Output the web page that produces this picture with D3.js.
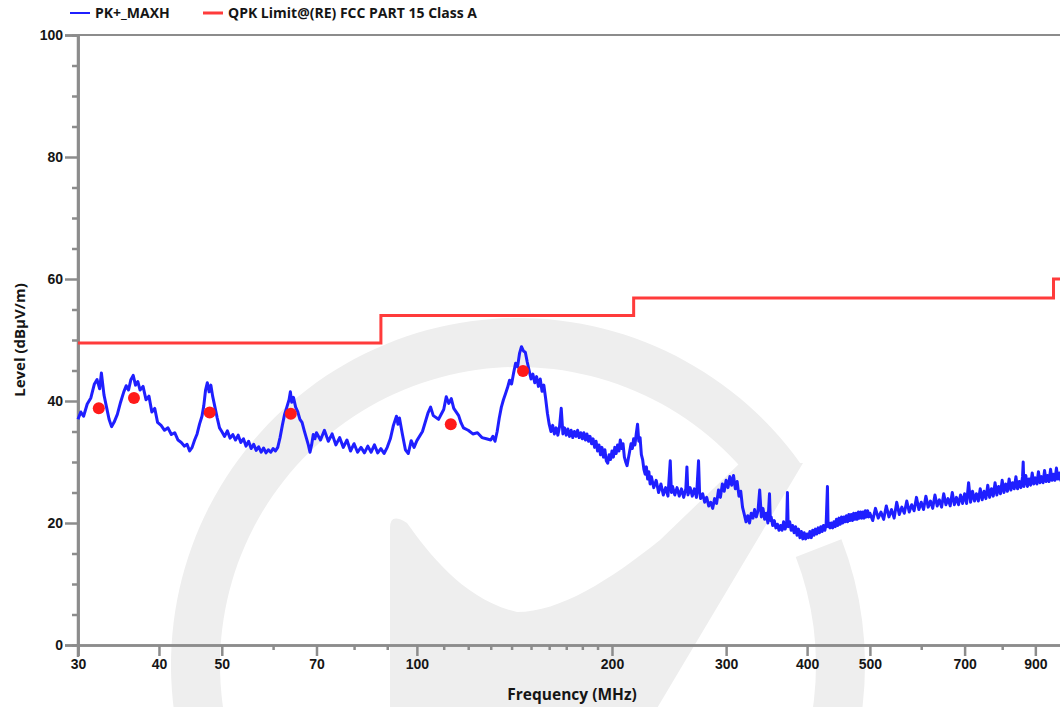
<!DOCTYPE html>
<html><head><meta charset="utf-8">
<script src="https://cdn.jsdelivr.net/npm/d3@7"></script>
<style>
html,body{margin:0;padding:0;background:#fff;}
svg{display:block;font-family:"Open Sans","DejaVu Sans",sans-serif;}
</style></head>
<body>
<svg id="chart" width="1060" height="707"></svg>
<script>
// ---- data ----
const seriesNames = ["PK+_MAXH", "QPK Limit@(RE) FCC PART 15 Class A"];
const xMajorTicks = [30, 40, 50, 70, 100, 200, 300, 400, 500, 700, 900];
const xMinorTicks = [60, 80, 90, 110, 120, 130, 140, 150, 160, 170, 180, 190, 600, 800, 1000];
const yMajorTicks = [0, 20, 40, 60, 80, 100];
const yMinorTicks = [5, 10, 15, 25, 30, 35, 45, 50, 55, 65, 70, 75, 85, 90, 95];
// limit (MHz, level)
const limitFreq = [30, 88, 88, 216, 216, 960, 960, 1000];
const limitLevel = [49.5, 49.5, 54, 54, 56.9, 56.9, 60, 60];
// final QP marker points
const markerFreq = [32.3, 36.6, 47.9, 63.9, 112.8, 145.8];
const markerLevel = [38.8, 40.5, 38.1, 37.9, 36.2, 44.9];
// peak max-hold trace [MHz, dBuV/m]
const peakTrace = [
[30.0,37.0],[30.3,38.2],[30.6,37.5],[31.0,39.5],[31.4,40.5],[31.8,42.8],[32.1,43.5],[32.4,42.0],[32.6,44.6],[32.9,41.0],
[33.2,39.0],[33.5,37.0],[33.8,35.8],[34.1,36.5],[34.5,37.8],[34.9,39.8],[35.3,41.5],[35.6,42.5],[35.9,41.8],[36.2,43.5],
[36.5,44.2],[36.8,42.6],[37.1,43.2],[37.4,41.8],[37.8,42.4],[38.2,40.2],[38.6,40.8],[39.0,38.2],[39.4,38.8],[39.8,36.5],
[40.3,36.0],[40.8,35.2],[41.3,35.6],[41.8,34.5],[42.3,34.8],[42.8,33.6],[43.3,33.2],[43.8,32.6],[44.2,32.9],[44.6,31.8],
[45.0,32.4],[45.4,33.6],[45.8,34.6],[46.2,36.2],[46.6,37.5],[46.9,39.2],[47.2,41.8],[47.5,43.0],[47.8,41.5],[48.1,42.6],
[48.4,40.8],[48.8,39.0],[49.2,37.2],[49.6,35.6],[50.0,35.0],[50.5,34.2],[51.0,35.1],[51.5,33.9],[52.0,34.5],[52.5,33.6],
[53.0,34.4],[53.5,33.2],[54.0,33.8],[54.5,32.6],[55.0,33.4],[55.5,32.2],[56.0,32.9],[56.5,31.9],[57.0,32.5],[57.5,31.6],
[58.0,32.3],[58.5,31.5],[59.0,32.0],[59.5,31.6],[60.0,32.2],[60.5,31.8],[61.0,32.4],[61.5,34.0],[62.0,36.0],[62.5,37.8],
[63.0,39.0],[63.5,40.2],[63.8,41.5],[64.1,39.8],[64.5,40.6],[65.0,39.0],[65.5,38.2],[66.0,37.0],[66.5,36.5],[67.0,35.2],
[67.5,34.0],[68.0,32.8],[68.4,31.6],[68.8,32.8],[69.2,34.5],[69.6,33.8],[70.0,34.8],[71,33.6],[72,35.2],[73,33.4],
[74,34.6],[75,32.8],[76,34.0],[77,32.4],[78,33.6],[79,31.8],[80,33.0],[81,31.6],[82,32.4],[83,31.5],
[84,32.6],[85,31.6],[86,32.8],[87,31.5],[88,32.2],[89,31.4],[90,32.4],[91,33.8],[92,36.0],[93,37.5],
[93.5,36.2],[94,37.2],[95,34.5],[96,32.0],[97,31.4],[98,33.5],[99,32.4],[100,33.5],[102,35.0],[104,38.0],
[105,39.0],[106,37.6],[108,37.0],[110,38.6],[111,40.7],[112,39.6],[113,40.4],[114,38.8],[116,37.6],[117,36.4],
[118,35.6],[120,35.2],[122,34.6],[124,34.8],[126,34.0],[128,33.8],[130,33.6],[131,34.2],[132,33.4],[133,35.0],
[134,37.2],[135,39.0],[136,40.2],[137,41.2],[138,42.2],[139,43.4],[140,42.8],[141,44.6],[142,46.2],[143,45.6],
[144,47.8],[145,48.9],[146,48.2],[147,48.0],[148,46.4],[149,45.0],
[150,43.6],[151,44.4],[152,43.0],[153,44.0],[154,42.4],[155,43.6],[156,41.6],[157,42.6],[158,40.4],[159,38.0],
[160,36.2],[161,35.0],[162,36.0],[163,34.6],[164,35.6],[165,34.4],[166,35.8],[167,38.8],[168,34.6],[169,35.6],
[170,34.4],[171,35.4],[172,34.2],[173,35.2],[174,34.0],[175,35.0],[176,34.2],[177,35.2],[178,34.0],[179,34.8],
[180,33.8],[181,34.8],[182,33.6],[183,34.6],[184,33.4],[185,34.2],[186,33.0],[187,33.8],[188,32.4],[189,33.4],
[190,31.8],[191,32.8],[192,31.2],[193,32.4],[194,30.8],[195,32.0],[196,30.2],[197,29.8],[198,31.2],[199,30.4],
[200,31.8],[201,30.8],[202,32.4],[203,31.4],[204,32.8],[205,31.8],[206,33.6],[207,32.2],[208,33.0],[209,30.8],
[210,30.0],[211,29.4],[212,30.6],[213,31.8],[214,33.0],[215,32.2],[216,33.8],[217,32.8],[218,34.6],[219,36.2],
[220,33.4],[221,34.0],[222,31.2],[223,30.4],[224,28.8],[225,28.0],[226,29.2],[227,27.2],[228,28.4],[229,26.4],
[230,27.6],[232,25.8],[234,27.0],[236,25.0],[238,26.4],[240,24.6],[242,25.8],[244,24.4],[246,30.2],[247,25.0],
[248,26.0],[250,24.6],[252,25.8],[254,24.4],[256,25.6],[258,24.2],[260,25.6],[261,29.2],[262,24.6],[264,25.8],
[266,24.4],[268,25.6],[270,24.2],[272,30.2],[273,25.0],[274,24.0],[276,24.8],[278,23.4],[280,24.2],[282,22.8],
[284,23.4],[286,22.4],[288,24.0],[290,23.2],[292,25.4],[294,24.2],[296,26.4],[298,25.2],[300,27.0],[302,25.8],
[304,27.6],[306,26.2],[308,27.8],[310,25.6],[312,26.8],[314,24.4],[316,25.2],[318,22.6],[320,21.4],[322,20.2],
[324,21.2],[326,20.0],[328,21.6],[330,20.8],[332,22.2],[334,21.0],[336,22.0],[338,25.4],[340,21.0],[342,22.4],
[344,20.6],[346,21.6],[348,20.0],[350,24.8],[351,20.4],[352,21.0],[354,19.6],[356,20.4],[358,19.2],[360,19.8],
[362,18.8],[364,19.6],[366,18.8],[368,20.2],[370,19.0],[372,20.0],[373,25.0],[374,19.4],[376,20.2],[378,18.8],
[380,19.6],[382,18.4],[384,19.4],[386,18.0],[388,19.0],[390,17.6],[392,18.6],[394,17.4],[396,18.4],[398,17.4],
[400,18.2],[402,17.6],[404,18.6],[406,17.6],[408,18.8],[410,18.0],[412,19.0],[414,18.2],[416,19.2],[418,18.4],
[420,19.4],[422,18.6],[424,19.6],[426,18.8],[428,19.8],[430,26.0],[431,19.4],[432,20.0],[434,19.2],[436,20.0],
[438,19.2],[440,20.2],[442,19.4],[444,20.6],[446,19.6],[448,20.8],[450,19.8],[452,21.0],[454,20.0],[456,21.0],
[458,20.2],[460,21.2],[462,20.2],[464,21.4],[466,20.4],[468,21.4],[470,20.4],[472,21.6],[474,20.6],[476,21.6],
[478,20.6],[480,21.8],[482,20.8],[484,21.8],[486,20.8],[488,21.8],[490,20.8],[492,22.0],[494,21.0],[496,22.0],
[498,21.0],[500,21.6],[505,20.4],[510,22.4],[515,20.8],[520,21.8],[525,20.6],[530,22.8],[535,21.0],[540,22.2],
[545,20.8],[550,23.4],[555,21.4],[560,22.6],[565,21.6],[570,23.6],[575,21.8],[580,23.0],[585,22.0],[590,24.2],
[595,22.2],[600,23.4],[605,22.2],[610,24.4],[615,22.6],[620,23.6],[625,22.4],[630,24.6],[635,22.8],[640,23.8],
[645,22.6],[650,24.8],[655,23.0],[660,24.0],[665,22.8],[670,25.0],[675,23.0],[680,24.2],[685,23.0],[690,24.6],
[695,23.2],[700,24.8],[705,23.2],[710,26.6],[715,23.4],[720,25.2],[725,23.6],[730,24.8],[735,23.6],[740,25.6],
[745,23.8],[750,25.2],[755,24.0],[760,26.2],[765,24.2],[770,25.6],[775,24.4],[780,26.6],[785,24.6],[790,26.0],
[795,24.8],[800,27.0],[805,25.0],[810,26.4],[815,25.2],[820,27.2],[825,25.4],[830,26.6],[835,25.6],[840,27.6],
[845,25.6],[850,26.8],[855,25.8],[860,27.6],[862,30.0],[864,26.0],[870,27.8],[875,26.0],[880,27.2],[885,26.2],
[890,28.2],[895,26.4],[900,27.4],[905,26.4],[910,28.4],[915,26.6],[920,27.6],[925,26.6],[930,28.6],[935,26.8],
[940,27.8],[945,26.8],[950,28.8],[955,27.0],[960,28.0],[965,27.0],[970,29.0],[975,27.2],[980,28.2],[985,27.0],
[990,29.0],[995,27.4],[1000,28.4]
];

// ---- drawing ----
const svg = d3.select("#chart");
const x = d3.scaleLog().domain([30, 1000]).range([78, 1065]);
const y = d3.scaleLinear().domain([0, 100]).range([645, 35]);
const axisColor = "#8c8c8c";
const textColor = "#151515";

// watermark logo (faint)
const wm = svg.append("g").attr("fill", "#eeeeee");
const cx = 518, cy = 665;
wm.append("path").attr("transform", `translate(${cx},${cy})`)
  .attr("d", d3.arc().innerRadius(298).outerRadius(347).startAngle(-Math.PI).endAngle(0.95)());
wm.append("path").attr("transform", `translate(${cx},${cy})`)
  .attr("d", d3.arc().innerRadius(298).outerRadius(347).startAngle(1.2).endAngle(Math.PI)());
wm.append("path").attr("d",
  "M390,720 L390,528 Q390,512 407,523 C430,555 465,600 517,612 C560,612 610,580 660,540 L740,463 L803,463 L650,720 Z");

// top border
svg.append("line").attr("x1", 78).attr("x2", 1060).attr("y1", y(100)).attr("y2", y(100))
  .attr("stroke", axisColor).attr("stroke-width", 2);

function styleAxis(g) {
  g.selectAll("path.domain").attr("stroke", axisColor).attr("stroke-width", 2.5);
  g.selectAll(".tick line").attr("stroke", axisColor).attr("stroke-width", 2.5);
  g.selectAll(".tick text").attr("fill", textColor).attr("font-size", 14).attr("font-weight", 700);
}

// x axis
const gxMinor = svg.append("g").attr("transform", `translate(0,${y(0)})`)
  .call(d3.axisBottom(x).tickValues(xMinorTicks).tickSize(5).tickFormat(""));
styleAxis(gxMinor);
const gx = svg.append("g").attr("transform", `translate(0,${y(0)})`)
  .call(d3.axisBottom(x).tickValues(xMajorTicks).tickSize(11).tickPadding(3).tickFormat(d3.format("d")));
styleAxis(gx);

// y axis
const gyMinor = svg.append("g").attr("transform", `translate(${x(30)},0)`)
  .call(d3.axisLeft(y).tickValues(yMinorTicks).tickSize(6).tickFormat(""));
styleAxis(gyMinor);
const gy = svg.append("g").attr("transform", `translate(${x(30)},0)`)
  .call(d3.axisLeft(y).tickValues(yMajorTicks).tickSize(13).tickPadding(2).tickFormat(d3.format("d")));
styleAxis(gy);
svg.append("line").attr("x1", x(30)).attr("x2", x(30)).attr("y1", y(100)).attr("y2", y(0) + 12)
  .attr("stroke", axisColor).attr("stroke-width", 2.5);

// axis titles
svg.append("text").attr("x", 572).attr("y", 700).attr("text-anchor", "middle")
  .attr("font-size", 15.5).attr("font-weight", 700).attr("fill", textColor).text("Frequency (MHz)");
svg.append("text").attr("transform", "translate(25,340) rotate(-90)").attr("text-anchor", "middle")
  .attr("font-size", 15).attr("font-weight", 700).attr("fill", textColor).text("Level (dBμV/m)");

// limit line
const limitPts = limitFreq.map((f, i) => [f, limitLevel[i]]);
svg.append("path").datum(limitPts)
  .attr("d", d3.line().x(d => x(d[0])).y(d => y(d[1])))
  .attr("fill", "none").attr("stroke", "#ff3b3b").attr("stroke-width", 3);

// trace
svg.append("path").datum(peakTrace)
  .attr("d", d3.line().x(d => x(d[0])).y(d => y(d[1])))
  .attr("fill", "none").attr("stroke", "#1f1fff").attr("stroke-width", 3)
  .attr("stroke-linejoin", "round");

// markers
svg.append("g").selectAll("circle").data(markerFreq.map((f, i) => [f, markerLevel[i]]))
  .join("circle").attr("cx", d => x(d[0])).attr("cy", d => y(d[1])).attr("r", 6)
  .attr("fill", "#ff1a1a");

// legend
const legend = svg.append("g");
const legendItems = [
  {name: seriesNames[0], color: "#1f1fff", w: 2, x0: 70},
  {name: seriesNames[1], color: "#ff3b3b", w: 3, x0: 203}
];
legendItems.forEach(it => {
  legend.append("line").attr("x1", it.x0).attr("x2", it.x0 + 20).attr("y1", 13).attr("y2", 13)
    .attr("stroke", it.color).attr("stroke-width", it.w);
  legend.append("text").attr("x", it.x0 + 25).attr("y", 18).attr("font-size", 14).attr("font-weight", 700)
    .attr("fill", textColor).text(it.name);
});
</script>
</body></html>
